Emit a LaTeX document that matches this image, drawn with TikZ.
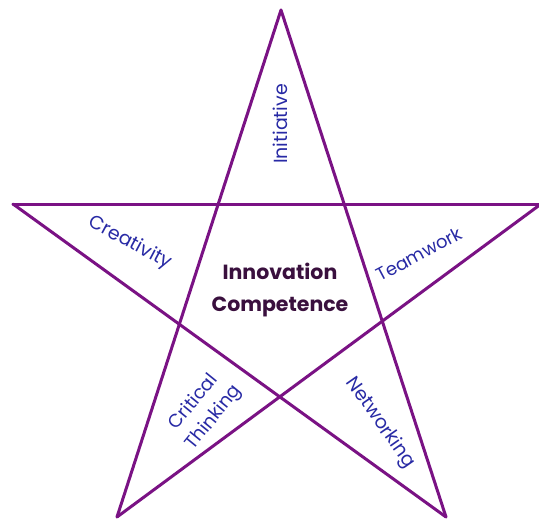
\documentclass[tikz,border=0pt]{standalone}
\usepackage{fontspec}
\setmainfont{Poppins}
\begin{document}
\begin{tikzpicture}[x=1pt,y=-1pt,
  starline/.style={draw=starpurple,line width=3pt,line cap=round},
  facet/.style={text=labelblue,font=\fontsize{19}{23}\selectfont,inner sep=0pt},
  core/.style={text=corepurple,font=\bfseries\fontsize{20.5}{32}\selectfont,align=center,inner sep=0pt}]
\definecolor{starpurple}{RGB}{122,18,132}
\definecolor{labelblue}{RGB}{40,42,165}
\definecolor{corepurple}{RGB}{58,16,62}
\useasboundingbox (0,0) rectangle (539,519);
\clip (0,0) rectangle (539,519);
\fill[white] (0,0) rectangle (539,519);
\coordinate (T) at (281,10);
\coordinate (L) at (13,204);
\coordinate (R) at (541,204);
\coordinate (BL) at (117,517);
\coordinate (BR) at (446,517);
\draw[starline] (T) -- (BL);
\draw[starline] (BL) -- (R);
\draw[starline] (R) -- (L);
\draw[starline] (L) -- (BR);
\draw[starline] (BR) -- (T);
\node[facet,rotate=90] (ini) at (280,124) {Initiative};
\node[facet,rotate=-28] (cre) at (130,243) {Creativity};
\node[facet,rotate=28,font=\fontsize{18}{22}\selectfont] (tea) at (419,254) {Teamwork};
\node[facet,rotate=-55] (net) at (380,423) {Networking};
\node[facet,rotate=51,font=\fontsize{18.5}{22}\selectfont] (crit1) at (192,401) {Critical};
\node[facet,rotate=51,font=\fontsize{18.5}{22}\selectfont] (crit2) at (214,418) {Thinking};
\node[core] (ic) at (280,290) {Innovation\\Competence};
\end{tikzpicture}
\end{document}
